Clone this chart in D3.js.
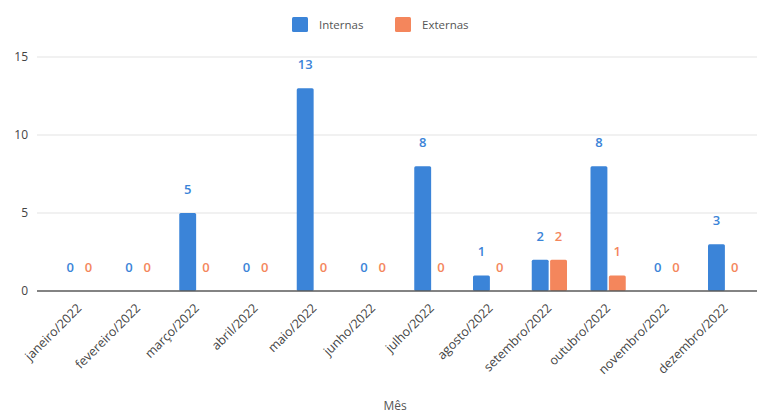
<!DOCTYPE html>
<html lang="pt">
<head>
  <meta charset="UTF-8">
  <title>Internas x Externas por mês</title>
  <style>
    body { margin: 0; background: #fff; }
    .tick-y { font-family: "Open Sans", sans-serif; font-size: 12px; fill: #444; }
    .tick-x { font-family: "Open Sans", sans-serif; font-size: 12.5px; fill: #444; }
    .title-x { font-family: "Open Sans", sans-serif; font-size: 12px; fill: #555; }
    .val { font-family: "Open Sans", sans-serif; font-size: 13px; font-weight: 600; }
    .legend text { font-family: "Open Sans", sans-serif; font-size: 11.5px; fill: #555; }
  </style>
</head>
<body>
  <div id="chart"></div>
  <script src="https://cdn.jsdelivr.net/npm/d3@7"></script>
  <script>
    const months = ["janeiro/2022", "fevereiro/2022", "março/2022", "abril/2022", "maio/2022", "junho/2022",
      "julho/2022", "agosto/2022", "setembro/2022", "outubro/2022", "novembro/2022", "dezembro/2022"];
    const internas = [0, 0, 5, 0, 13, 0, 8, 1, 2, 8, 0, 3];
    const externas = [0, 0, 0, 0, 0, 0, 0, 0, 2, 1, 0, 0];
    const seriesNames = ["Internas", "Externas"];
    const colors = ["#3b84d8", "#f4865c"];
    const yTicks = [0, 5, 10, 15];

    const W = 757, H = 415;
    const svg = d3.select("#chart").append("svg")
      .attr("width", W)
      .attr("height", H);

    const x0 = d3.scaleBand().domain(months).range([50, 755]).paddingInner(0.4).paddingOuter(0.2);
    const x1 = d3.scaleBand().domain([0, 1]).range([0, x0.bandwidth()]).paddingInner(0.08);
    const y = d3.scaleLinear().domain([0, 15]).range([291, 57]);

    // gridlines
    svg.append("g").selectAll("line")
      .data(yTicks.filter(t => t > 0))
      .enter().append("line")
      .attr("x1", 37).attr("x2", 757)
      .attr("y1", d => y(d)).attr("y2", d => y(d))
      .attr("stroke", "#e3e3e3")
      .attr("stroke-width", 1);

    // y tick labels
    svg.append("g").selectAll("text")
      .data(yTicks)
      .enter().append("text")
      .attr("class", "tick-y")
      .attr("x", 28)
      .attr("y", d => y(d) + 4)
      .attr("text-anchor", "end")
      .text(d => d);

    // bars
    const rows = months.map((m, i) => ({ month: m, values: [internas[i], externas[i]] }));
    const groups = svg.append("g").selectAll("g")
      .data(rows)
      .enter().append("g")
      .attr("transform", d => `translate(${x0(d.month)},0)`);

    groups.selectAll("rect")
      .data(d => d.values.map((v, k) => ({ k, v })))
      .enter().append("rect")
      .attr("x", d => x1(d.k))
      .attr("y", d => y(d.v))
      .attr("width", x1.bandwidth())
      .attr("height", d => y(0) - y(d.v))
      .attr("rx", 1.5)
      .attr("fill", d => colors[d.k]);

    groups.selectAll("text")
      .data(d => d.values.map((v, k) => ({ k, v })))
      .enter().append("text")
      .attr("class", "val")
      .attr("x", d => x1(d.k) + x1.bandwidth() / 2)
      .attr("y", d => y(d.v) - 19)
      .attr("text-anchor", "middle")
      .attr("fill", d => colors[d.k])
      .text(d => d.v);

    // baseline
    svg.append("line")
      .attr("x1", 37).attr("x2", 757)
      .attr("y1", y(0)).attr("y2", y(0))
      .attr("stroke", "#5a5a5a")
      .attr("stroke-width", 1.5);

    // x labels
    svg.append("g").selectAll("text")
      .data(months)
      .enter().append("text")
      .attr("class", "tick-x")
      .attr("text-anchor", "end")
      .attr("transform", d => `translate(${x0(d) + x0.bandwidth() / 2 + 3},${309}) rotate(-45)`)
      .text(d => d);

    // axis title
    svg.append("text")
      .attr("class", "title-x")
      .attr("x", 395)
      .attr("y", 410)
      .attr("text-anchor", "middle")
      .text("Mês");

    // legend
    const legend = svg.append("g").attr("class", "legend");
    const legendX = [292, 395];
    seriesNames.forEach((s, i) => {
      const g = legend.append("g").attr("transform", `translate(${legendX[i]},17)`);
      g.append("rect").attr("width", 16).attr("height", 15).attr("rx", 1.5).attr("fill", colors[i]);
      g.append("text").attr("x", 27).attr("y", 12).text(s);
    });
  </script>
</body>
</html>
